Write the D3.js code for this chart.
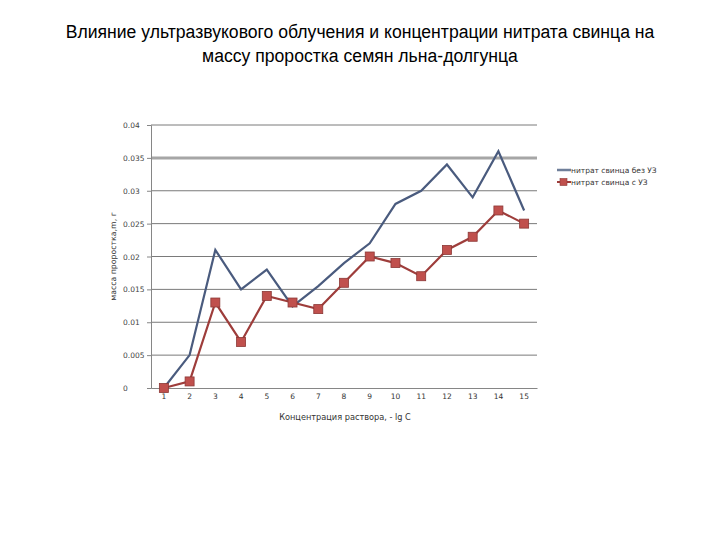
<!DOCTYPE html>
<html><head><meta charset="utf-8">
<script src="https://cdn.jsdelivr.net/npm/d3@7"></script>
<style>body{margin:0;background:#fff}</style>
</head><body>
<svg id="c" width="720" height="540"></svg>
<script>
const categories = [1,2,3,4,5,6,7,8,9,10,11,12,13,14,15];
const seriesNoUS = [0,0.005,0.021,0.015,0.018,0.0124,0.0155,0.019,0.022,0.028,0.030,0.034,0.029,0.036,0.027];
const seriesUS = [0,0.001,0.013,0.007,0.014,0.013,0.012,0.016,0.020,0.019,0.017,0.021,0.023,0.027,0.025];
const yTicks = [0,0.005,0.01,0.015,0.02,0.025,0.03,0.035,0.04];
const seriesNames = ["нитрат свинца без УЗ","нитрат свинца с УЗ"];
const titleLines = ["Влияние ультразвукового облучения и концентрации нитрата свинца на","массу проростка семян льна-долгунца"];

const svg = d3.select("#c");
const L=151, R=537, T=125, B=388;
const x = d3.scaleBand().domain(categories).range([L,R]);
const y = d3.scaleLinear().domain([0,0.04]).range([B,T]);
const cx = d => x(d)+x.bandwidth()/2;

svg.selectAll("text.title").data(titleLines).enter().append("text")
  .attr("x",360).attr("y",(d,i)=>38+i*24).attr("text-anchor","middle")
  .attr("font-family","Liberation Sans, Arial, sans-serif").attr("font-size",17.6).attr("fill","#000").text(d=>d);

// gridlines
svg.selectAll("line.grid").data(yTicks.filter(t=>t>0)).enter().append("line")
  .attr("x1",L).attr("x2",R).attr("y1",d=>y(d)).attr("y2",d=>y(d))
  .attr("stroke",d=>Math.abs(d-0.035)<1e-9?"#a6a6a6":"#7a7a7a")
  .attr("stroke-width",d=>Math.abs(d-0.035)<1e-9?3:1);

// axes
const ya = svg.append("g").attr("transform",`translate(${L},0)`).call(d3.axisLeft(y).tickValues(yTicks).tickSize(4).tickFormat(""));
ya.selectAll("line,path").attr("stroke","#868686");
svg.selectAll("text.yt").data(yTicks).enter().append("text")
  .attr("x",123).attr("y",d=>y(d)+3).attr("font-family","DejaVu Sans, sans-serif").attr("font-size",7.5)
  .attr("fill","#444").text(d=>d===0?"0":d3.format("")(+d.toFixed(3)));
const xa = svg.append("g").attr("transform",`translate(0,${B})`).call(d3.axisBottom(x).tickSize(0));
xa.select("path").attr("stroke","#868686");
xa.selectAll("text").attr("font-family","DejaVu Sans, sans-serif").attr("font-size",7.5).attr("fill","#333").attr("dy","1.1em");

svg.append("text").attr("transform",`translate(116,${(T+B)/2}) rotate(-90)`).attr("text-anchor","middle")
  .attr("font-family","DejaVu Sans, sans-serif").attr("font-size",7.8).attr("fill","#333").text("масса проростка,m, г");
svg.append("text").attr("x",345).attr("y",420).attr("text-anchor","middle")
  .attr("font-family","DejaVu Sans, sans-serif").attr("font-size",8.2).attr("fill","#333").text("Концентрация раствора, - lg C");

const line = d3.line().x((d,i)=>cx(categories[i])).y(d=>y(d));
svg.append("path").datum(seriesNoUS).attr("d",line).attr("fill","none").attr("stroke","#4a5b7e").attr("stroke-width",2.2);
svg.append("path").datum(seriesUS).attr("d",line).attr("fill","none").attr("stroke","#9e3d3b").attr("stroke-width",2.2);
svg.selectAll("rect.m").data(seriesUS).enter().append("rect")
  .attr("x",(d,i)=>cx(categories[i])-4.5).attr("y",d=>y(d)-4.5).attr("width",9).attr("height",9)
  .attr("fill","#c0504d").attr("stroke","#8c3836").attr("stroke-width",0.8);

// legend
const lg = svg.append("g");
lg.append("line").attr("x1",557).attr("x2",571).attr("y1",170).attr("y2",170).attr("stroke","#6f7f9a").attr("stroke-width",2.5);
lg.append("line").attr("x1",557).attr("x2",571).attr("y1",182).attr("y2",182).attr("stroke","#9e3d3b").attr("stroke-width",2);
lg.append("rect").attr("x",560).attr("y",178.5).attr("width",7).attr("height",7).attr("fill","#c0504d").attr("stroke","#8c3836").attr("stroke-width",0.6);
lg.selectAll("text").data(seriesNames).enter().append("text").attr("x",571).attr("y",(d,i)=>173+i*12)
  .attr("font-family","DejaVu Sans, sans-serif").attr("font-size",7.5).attr("fill","#333").text(d=>d);
</script>
</body></html>
